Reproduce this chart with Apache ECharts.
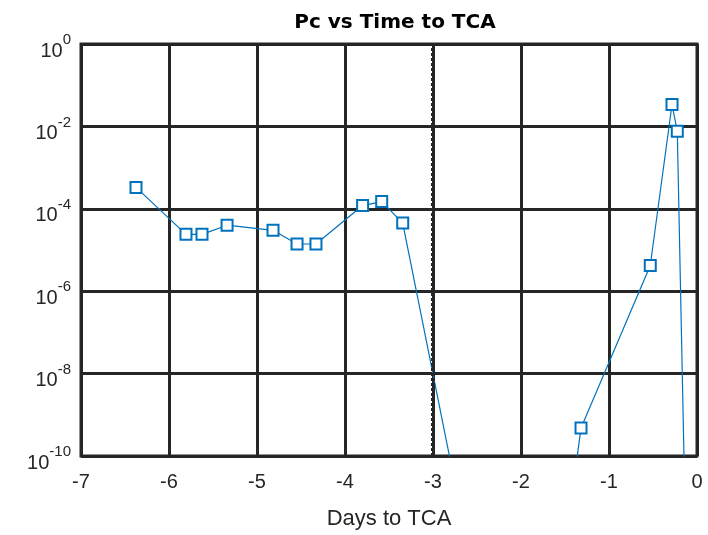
<!DOCTYPE html>
<html><head><meta charset="utf-8">
<script src="https://cdn.jsdelivr.net/npm/echarts@6/dist/echarts.min.js"></script>
<style>html,body{margin:0;padding:0;background:#fff}#c{width:708px;height:535px}</style>
</head><body><div id="c"></div>
<script>
var days = [-6.375, -5.807, -5.625, -5.34, -4.818, -4.545, -4.33, -3.80, -3.583, -3.344, -1.94, -1.318, -0.531, -0.284, -0.224, -0.10];
var pc = [3.3e-4, 2.4e-5, 2.4e-5, 4.0e-5, 3.0e-5, 1.4e-5, 1.4e-5, 1.2e-4, 1.5e-4, 4.5e-5, 5e-20, 4.8e-10, 4.2e-6, 3.4e-2, 7.6e-3, 1e-15];
var xTicks = [-7, -6, -5, -4, -3, -2, -1, 0];
var tcaLine = -3;

var font = "'Liberation Sans',Arial,sans-serif";
var chart = echarts.init(document.getElementById('c'));
chart.setOption({
  animation: false,
  title: {
    text: 'Pc vs Time to TCA', left: 390, top: 8, textAlign: 'center',
    textStyle: {fontFamily: "'DejaVu Sans',sans-serif", fontWeight: 'bold', fontSize: 20, color: '#000'}
  },
  grid: {left: 81, right: 11, top: 44, bottom: 77, show: true, borderColor: '#262626', borderWidth: 3, backgroundColor: '#fff'},
  xAxis: {
    type: 'value', min: -7, max: 0, interval: 1,
    name: 'Days to TCA', nameLocation: 'middle', nameGap: 52,
    nameTextStyle: {fontFamily: font, fontSize: 22, color: '#262626'},
    axisLine: {show: false}, axisTick: {show: false},
    axisLabel: {fontFamily: font, fontSize: 20, color: '#262626', margin: 16,
      formatter: function (v) { return xTicks.indexOf(v) >= 0 ? String(v) : ''; }},
    splitLine: {show: true, lineStyle: {color: '#262626', width: 3}}
  },
  yAxis: {
    type: 'log', logBase: 10, min: 1e-10, max: 1, interval: 2,
    axisLine: {show: false}, axisTick: {show: false},
    axisLabel: {
      margin: 10,
      formatter: function (v) { var e = Math.round(Math.log10(v)); return '{b|10}{s|' + e + '}'; },
      rich: {
        b: {fontFamily: font, fontSize: 20, lineHeight: 22, color: '#262626', padding: [14, 0, 0, 0]},
        s: {fontFamily: font, fontSize: 15, lineHeight: 16, color: '#262626', padding: [4, 0, 12, 0]}
      }
    },
    splitLine: {show: true, lineStyle: {color: '#262626', width: 3}}
  },
  series: [{
    type: 'line',
    data: days.map(function (d, i) { return [d, pc[i]]; }),
    symbol: 'rect', symbolSize: 11, showAllSymbol: true,
    itemStyle: {color: '#fff', borderColor: '#0072BD', borderWidth: 2},
    lineStyle: {color: '#0072BD', width: 1.2},
    clip: true,
    markLine: {
      silent: true, symbol: 'none', label: {show: false},
      lineStyle: {color: '#262626', type: [3, 2], width: 4},
      data: [{xAxis: tcaLine}]
    }
  }]
});
</script></body></html>
